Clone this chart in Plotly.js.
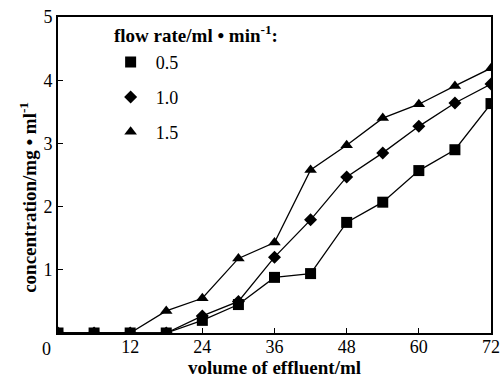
<!DOCTYPE html>
<html>
<head>
<meta charset="utf-8">
<script src="https://cdn.plot.ly/plotly-3.0.1.min.js"></script>
<style>html,body{margin:0;padding:0;background:#fff;}#chart{width:503px;height:379px;}</style>
</head>
<body>
<div id="chart"></div>
<script>
const volume = [0, 6, 12, 18, 24, 30, 36, 42, 48, 54, 60, 66, 72];
const rate05 = [0, 0, 0, 0, 0.2, 0.45, 0.88, 0.94, 1.75, 2.07, 2.57, 2.9, 3.63];
const rate10 = [0, 0, 0, 0, 0.27, 0.5, 1.2, 1.79, 2.47, 2.85, 3.27, 3.64, 3.94];
const rate15 = [0, 0, 0, 0.35, 0.55, 1.18, 1.43, 2.58, 2.97, 3.4, 3.62, 3.91, 4.19];
const seriesNames = ['0.5', '1.0', '1.5'];
const xTicks = [12, 24, 36, 48, 60, 72];
const yTicks = [1, 2, 3, 4, 5];

const serif = 'Liberation Serif, Times New Roman, serif';
const series = [rate05, rate10, rate15];
const symbols = ['square', 'diamond', 'triangle-up'];
const sizes = [11, 10, 11];
const traces = [];
series.forEach((ys, i) => {
  traces.push({x: volume, y: ys, mode: 'lines', line: {color: '#000', width: 1.3}, showlegend: false, hoverinfo: 'skip'});
});
series.forEach((ys, i) => {
  traces.push({x: volume, y: ys, mode: 'markers', name: seriesNames[i], legendgroup: 'g' + i,
    marker: {symbol: symbols[i], size: sizes[i], color: '#000'}});
});

const layout = {
  width: 503, height: 379,
  margin: {l: 58, r: 12, t: 17, b: 46},
  paper_bgcolor: '#fff', plot_bgcolor: '#fff',
  font: {family: serif, color: '#000', size: 18},
  showlegend: true,
  legend: {x: 0.11, y: 0.915, xanchor: 'left', yanchor: 'top', bgcolor: 'rgba(0,0,0,0)',
    font: {family: serif, size: 18, color: '#000'}, tracegroupgap: 8.5, itemwidth: 40},
  xaxis: {range: [0, 72], tickvals: xTicks, ticktext: xTicks.map(String), ticks: 'inside', ticklen: 5,
    tickwidth: 1.3, tickcolor: '#000', showline: true, linecolor: '#000', linewidth: 1.8, mirror: true,
    showgrid: false, zeroline: false, tickfont: {family: serif, size: 18}, ticklabelstandoff: -3,
    title: {text: '<b>volume of effluent/ml</b>', font: {family: serif, size: 19}, standoff: 2}},
  yaxis: {range: [0, 5], tickvals: yTicks, ticktext: yTicks.map(String), ticks: 'inside', ticklen: 5,
    tickwidth: 1.3, tickcolor: '#000', showline: true, linecolor: '#000', linewidth: 1.8, mirror: true,
    showgrid: false, zeroline: false, tickfont: {family: serif, size: 18}},
  annotations: [
    {xref: 'paper', yref: 'paper', x: -0.07, y: 0.43, xanchor: 'center', yanchor: 'middle', textangle: -90, showarrow: false,
      text: '<b>concentration/mg • ml<sup>-1</sup></b>', font: {family: serif, size: 19}},
    {xref: 'paper', yref: 'paper', x: 0.125, y: 0.945, xanchor: 'left', yanchor: 'middle', showarrow: false,
      text: '<b>flow rate/ml • min<sup>-1</sup>:</b>', font: {family: serif, size: 19}},
    {xref: 'x', yref: 'paper', x: 0, y: 0, xanchor: 'right', yanchor: 'top', xshift: -5, yshift: -4, showarrow: false,
      text: '0', font: {family: serif, size: 18}}
  ]
};
Plotly.newPlot('chart', traces, layout, {displayModeBar: false, staticPlot: true});
</script>
</body>
</html>
